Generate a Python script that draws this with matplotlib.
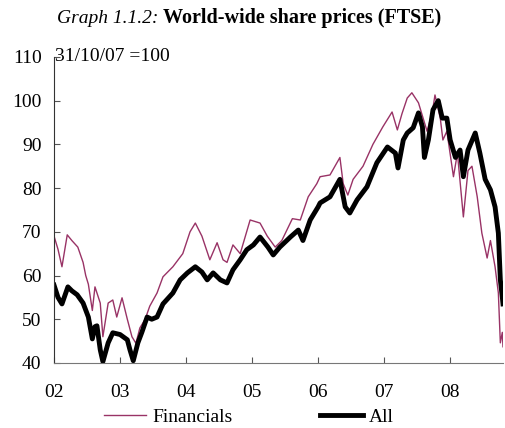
import matplotlib.pyplot as plt

# Dates as decimal years, values indexed to 31/10/07 = 100
fin_dates = [2002.00, 2002.06, 2002.12, 2002.20, 2002.27, 2002.36, 2002.44, 2002.48,
             2002.52, 2002.58, 2002.62, 2002.70, 2002.74, 2002.82, 2002.89, 2002.95,
             2003.03, 2003.11, 2003.18, 2003.24, 2003.30, 2003.38, 2003.45, 2003.56,
             2003.65, 2003.80, 2003.95, 2004.06, 2004.14, 2004.24, 2004.36, 2004.47,
             2004.56, 2004.62, 2004.71, 2004.82, 2004.97, 2005.12, 2005.23, 2005.35,
             2005.45, 2005.61, 2005.73, 2005.85, 2005.98, 2006.03, 2006.18, 2006.33,
             2006.38, 2006.45, 2006.53, 2006.68, 2006.83, 2006.98, 2007.12, 2007.20,
             2007.27, 2007.35, 2007.42, 2007.52, 2007.59, 2007.65, 2007.73, 2007.77,
             2007.85, 2007.89, 2007.95, 2008.05, 2008.11, 2008.20, 2008.27, 2008.33,
             2008.41, 2008.48, 2008.56, 2008.61, 2008.68, 2008.73, 2008.76, 2008.79,
             2008.80]
financials = [69.0, 66.0, 62.0, 69.3, 68.0, 66.5, 63.0, 60.0,
              58.0, 52.0, 57.4, 53.7, 46.0, 53.7, 54.4, 50.5,
              54.9, 50.0, 46.0, 44.5, 48.0, 50.0, 53.0, 56.0,
              59.7, 62.0, 65.0, 70.0, 72.0, 69.0, 63.6, 67.5,
              63.6, 63.0, 67.0, 65.0, 72.7, 72.0, 69.0, 66.5,
              68.0, 73.0, 72.7, 78.0, 81.0, 82.6, 83.0, 87.0,
              81.0, 78.4, 82.0, 85.0, 90.0, 94.0, 97.4, 93.3,
              97.0, 100.6, 101.8, 99.5, 96.0, 93.0, 97.4, 101.3,
              96.0, 91.0, 93.0, 82.6, 88.0, 73.4, 84.0, 85.0,
              78.0, 69.7, 64.0, 68.0, 62.0, 56.0, 44.6, 47.0,
              43.7]

all_dates = [2002.00, 2002.06, 2002.12, 2002.21, 2002.27, 2002.35, 2002.44, 2002.52,
             2002.58, 2002.62, 2002.65, 2002.70, 2002.74, 2002.82, 2002.89, 2003.00,
             2003.11, 2003.15, 2003.20, 2003.27, 2003.33, 2003.41, 2003.48, 2003.56,
             2003.65, 2003.80, 2003.91, 2004.02, 2004.14, 2004.24, 2004.32, 2004.41,
             2004.52, 2004.62, 2004.71, 2004.82, 2004.92, 2005.02, 2005.12, 2005.24,
             2005.32, 2005.42, 2005.58, 2005.70, 2005.77, 2005.88, 2006.00, 2006.03,
             2006.18, 2006.33, 2006.41, 2006.48, 2006.59, 2006.74, 2006.89, 2007.05,
             2007.17, 2007.21, 2007.29, 2007.35, 2007.44, 2007.52, 2007.58, 2007.61,
             2007.67, 2007.74, 2007.82, 2007.88, 2007.95, 2008.00, 2008.08, 2008.15,
             2008.20, 2008.27, 2008.38, 2008.45, 2008.53, 2008.61, 2008.68, 2008.73,
             2008.76, 2008.79, 2008.80]
all_shares = [57.8, 55.0, 53.5, 57.4, 56.5, 55.6, 53.7, 50.5,
              45.5, 48.3, 48.5, 43.0, 40.3, 44.6, 46.9, 46.5,
              45.3, 43.0, 40.5, 44.6, 47.0, 50.5, 50.0, 50.5,
              53.5, 56.0, 59.0, 60.6, 62.0, 60.8, 59.0, 60.6,
              59.0, 58.3, 61.3, 63.6, 65.9, 67.0, 68.8, 66.5,
              64.7, 66.5, 68.8, 70.4, 68.0, 72.7, 75.7, 76.6,
              78.0, 82.0, 75.7, 74.3, 77.3, 80.3, 85.8, 89.4,
              88.0, 84.6, 91.0, 92.6, 93.8, 97.2, 94.0, 87.0,
              91.0, 97.9, 100.0, 96.0, 96.0, 91.0, 87.0, 88.7,
              82.6, 88.7, 92.6, 88.0, 82.0, 79.6, 75.7, 69.7,
              59.0, 55.0, 53.5]

years = [2002, 2003, 2004, 2005, 2006, 2007, 2008]
year_labels = ["02", "03", "04", "05", "06", "07", "08"]

plt.rcParams['font.family'] = ['Liberation Serif', 'DejaVu Serif']

fig = plt.figure(figsize=(5.05, 4.28), dpi=100)
ax = fig.add_axes([0.107, 0.152, 0.889, 0.715])

ax.plot(fin_dates, financials, color='#993366', linewidth=1.0, label='Financials')
ax.plot(all_dates, all_shares, color='black', linewidth=3.5, label='All')

ax.set_xlim(2002, 2008.8)
ax.set_ylim(40, 110)
ax.set_yticks(range(40, 111, 10))
ax.set_xticks(years)
ax.set_xticklabels(year_labels)
ax.tick_params(direction='in', labelsize=14, length=4, color='#555555')
ax.tick_params(axis='y', pad=9)
ax.tick_params(axis='x', pad=15)

for side in ['top', 'right']:
    ax.spines[side].set_visible(False)
ax.spines['left'].set_color('#333333')
ax.spines['bottom'].set_color('#777777')

ax.text(2002.02, 110, "31/10/07 =100", fontsize=14, va='center', ha='left')

# Title: italic part + bold part
fig.text(0.313, 0.957, "Graph 1.1.2:", fontsize=14, style='italic', ha='right', va='center')
fig.text(0.323, 0.957, "World-wide share prices (FTSE)", fontsize=14.5, fontweight='bold',
         ha='left', va='center')

# Legend below the axes, kept inside the figure
fig.legend(loc='lower center', bbox_to_anchor=(0.492, -0.021), ncol=2, frameon=False,
           fontsize=14, handlelength=2.2, columnspacing=4.5, handletextpad=0.3,
           borderpad=0.05)

fig.savefig("out.png", dpi=100)
